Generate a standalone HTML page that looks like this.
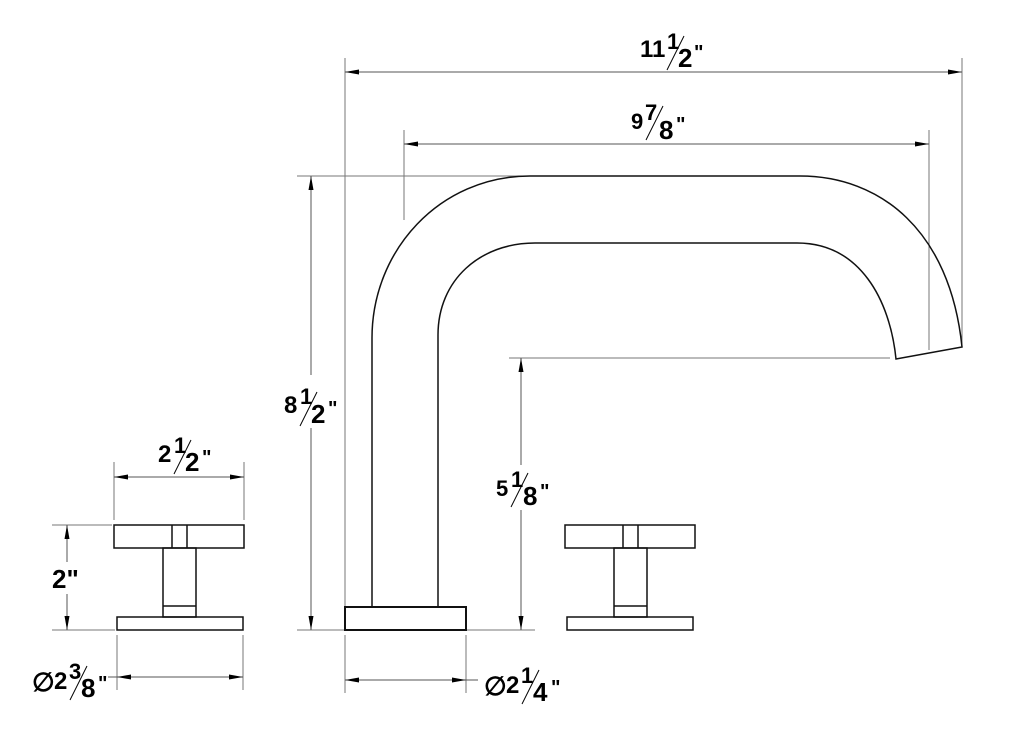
<!DOCTYPE html>
<html><head><style>
html,body{margin:0;padding:0;background:#fff;}
svg{display:block;}
text{font-family:"Liberation Sans",sans-serif;font-weight:bold;fill:#000;stroke:none;}
</style></head><body>
<svg width="1024" height="752" viewBox="0 0 1024 752" xmlns="http://www.w3.org/2000/svg">
<defs>
<marker id="a" viewBox="0 0 14 6" refX="14" refY="3" markerWidth="14" markerHeight="6" orient="auto-start-reverse" markerUnits="userSpaceOnUse">
<path d="M0,0.5 L14,3 L0,5.5 Z" fill="#000"/></marker>
</defs>
<g stroke="#777" stroke-width="1" fill="none">
<line x1="345" y1="58" x2="345" y2="607"/>
<line x1="962" y1="58" x2="962" y2="346"/>
<line x1="404" y1="130" x2="404" y2="220"/>
<line x1="929" y1="130" x2="929" y2="350"/>
<line x1="297" y1="176" x2="530" y2="176"/>
<line x1="297" y1="630" x2="345" y2="630"/>
<line x1="509" y1="358" x2="890" y2="358"/>
<line x1="466" y1="630" x2="535" y2="630"/>
<line x1="114" y1="462" x2="114" y2="520"/>
<line x1="244" y1="462" x2="244" y2="520"/>
<line x1="52" y1="525" x2="112" y2="525"/>
<line x1="52" y1="630" x2="115" y2="630"/>
<line x1="117" y1="635" x2="117" y2="690"/>
<line x1="243" y1="635" x2="243" y2="690"/>
<line x1="345" y1="635" x2="345" y2="693"/>
<line x1="466" y1="635" x2="466" y2="693"/>
</g>
<g stroke="#555" stroke-width="1" fill="none">
<line x1="345" y1="72" x2="962" y2="72" marker-start="url(#a)" marker-end="url(#a)"/>
<line x1="404" y1="144" x2="929" y2="144" marker-start="url(#a)" marker-end="url(#a)"/>
<line x1="311" y1="176" x2="311" y2="375" marker-start="url(#a)"/>
<line x1="311" y1="428" x2="311" y2="630" marker-end="url(#a)"/>
<line x1="521" y1="358" x2="521" y2="465" marker-start="url(#a)"/>
<line x1="521" y1="510" x2="521" y2="630" marker-end="url(#a)"/>
<line x1="114" y1="477" x2="244" y2="477" marker-start="url(#a)" marker-end="url(#a)"/>
<line x1="67" y1="525" x2="67" y2="562" marker-start="url(#a)"/>
<line x1="67" y1="594" x2="67" y2="630" marker-end="url(#a)"/>
<line x1="108" y1="677" x2="243" y2="677" marker-end="url(#a)"/>
<line x1="117" y1="677" x2="160" y2="677" marker-start="url(#a)"/>
<line x1="345" y1="680" x2="466" y2="680" marker-start="url(#a)" marker-end="url(#a)"/>
<line x1="466" y1="680" x2="478" y2="680"/>
</g>
<g stroke="#111" stroke-width="1.5" fill="none">
<path d="M372,607 L372,338 C372,250 440,176 530,176 L800,176 C880,176 950,230 962,347 L896,359 C890,300 860,243 797,243 L535,243 C480,243 438,280 438,335 L438,607"/>
<rect x="345" y="607" width="121" height="23" stroke-width="2"/>
<rect x="114" y="525" width="130" height="23"/>
<line x1="172" y1="525" x2="172" y2="548"/>
<line x1="187" y1="525" x2="187" y2="548"/>
<rect x="163" y="548" width="33" height="69"/>
<line x1="163" y1="606" x2="196" y2="606"/>
<rect x="117" y="617" width="126" height="13"/>
<rect x="565" y="525" width="130" height="23"/>
<line x1="623" y1="525" x2="623" y2="548"/>
<line x1="638" y1="525" x2="638" y2="548"/>
<rect x="614" y="548" width="33" height="69"/>
<line x1="614" y1="606" x2="647" y2="606"/>
<rect x="567" y="617" width="126" height="13"/>
</g>
<g stroke="#000" stroke-width="1">
<line x1="667" y1="70" x2="684" y2="36"/>
<line x1="646" y1="140" x2="663" y2="106"/>
<line x1="300" y1="426" x2="317" y2="392"/>
<line x1="511" y1="507" x2="528" y2="473"/>
<line x1="174" y1="474" x2="191" y2="440"/>
<line x1="70" y1="700" x2="87" y2="666"/>
<line x1="522" y1="704" x2="539" y2="670"/>
</g>
<g>
<text x="640" y="57" font-size="24">11</text><text x="667" y="49" font-size="22">1</text><text x="678" y="67" font-size="26">2</text><text x="694" y="59" font-size="20">"</text>
<text x="631" y="129" font-size="22">9</text><text x="645" y="120" font-size="22">7</text><text x="659" y="139" font-size="26">8</text><text x="676" y="131" font-size="20">"</text>
<text x="284" y="413" font-size="24">8</text><text x="300" y="404" font-size="22">1</text><text x="311" y="423" font-size="26">2</text><text x="328" y="415" font-size="20">"</text>
<text x="496" y="496" font-size="22">5</text><text x="511" y="487" font-size="22">1</text><text x="523" y="505" font-size="26">8</text><text x="540" y="498" font-size="20">"</text>
<text x="158" y="462" font-size="24">2</text><text x="174" y="453" font-size="22">1</text><text x="185" y="471" font-size="26">2</text><text x="202" y="464" font-size="20">"</text>
<text x="52" y="588" font-size="26">2"</text>
<text x="32" y="691" font-size="26" font-weight="normal">∅</text>
<text x="54" y="689" font-size="24">2</text><text x="69" y="679" font-size="22">3</text><text x="81" y="697" font-size="26">8</text><text x="98" y="690" font-size="20">"</text>
<text x="484" y="695" font-size="26" font-weight="normal">∅</text>
<text x="506" y="693" font-size="24">2</text><text x="521" y="683" font-size="22">1</text><text x="533" y="701" font-size="26">4</text><text x="551" y="694" font-size="20">"</text>
</g>
</svg>
</body></html>
